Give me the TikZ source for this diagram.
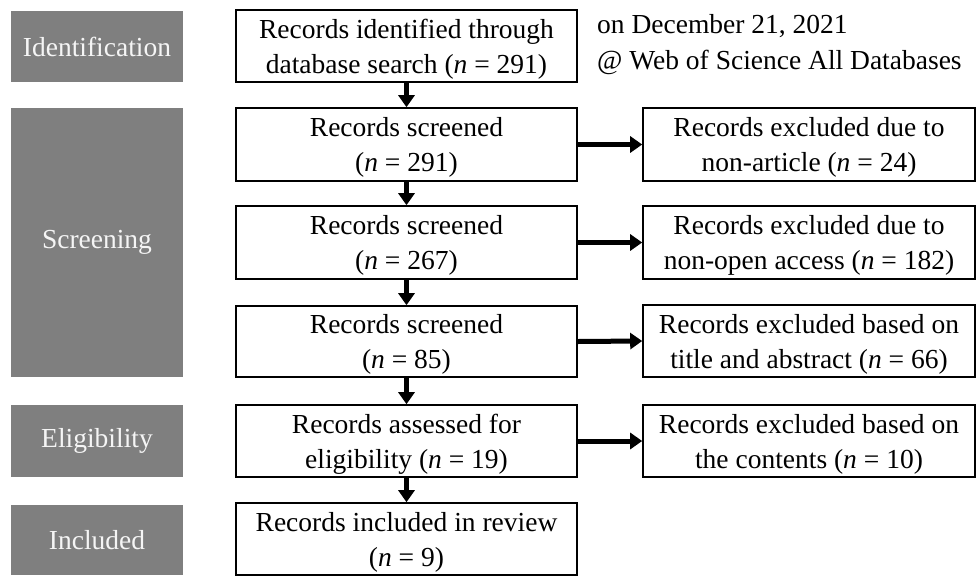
\documentclass[tikz,border=0pt]{standalone}
\usepackage{fontspec}
\setmainfont{Liberation Serif}
\usetikzlibrary{arrows.meta}
\newcommand{\topstrut}{\rule{0pt}{25.5pt}}
\begin{document}
\begin{tikzpicture}[x=1pt,y=-1pt,
  txt/.style={font=\fontsize{27.5}{35}\selectfont},
  phase/.style={txt, rectangle, fill={rgb,255:red,127;green,127;blue,127}, text={rgb,255:red,245;green,245;blue,245}, inner sep=0pt, minimum width=172pt},
  boxed/.style={txt, rectangle, draw=black, line width=1.6pt, inner sep=0pt, align=center},
  mainbox/.style={boxed, minimum width=341pt},
  sidebox/.style={boxed, minimum width=332pt},
  flow/.style={line width=5pt, -{Triangle[length=12pt,width=16pt]}}
]
\useasboundingbox (0,0) rectangle (977,576);
% phase labels
\node[phase, minimum height=71pt] (pid) at (97,46.5) {Identification};
\node[phase, minimum height=269pt] (pscr) at (97,242.5) {Screening};
\node[phase, minimum height=72pt] (pel) at (97,441) {Eligibility};
\node[phase, minimum height=70pt] (pinc) at (97,540) {Included};
% main boxes
\node[mainbox, minimum height=72pt] (b1) at (406.5,46) {\topstrut Records identified through\\database search (\textit{n} = 291)};
\node[mainbox, minimum height=73pt] (b2) at (406.5,144.5) {\topstrut Records screened\\(\textit{n} = 291)};
\node[mainbox, minimum height=73pt] (b3) at (406.5,242.5) {\topstrut Records screened\\(\textit{n} = 267)};
\node[mainbox, minimum height=71pt] (b4) at (406.5,341.5) {\topstrut Records screened\\(\textit{n} = 85)};
\node[mainbox, minimum height=72pt] (b5) at (406.5,441) {\topstrut Records assessed for\\eligibility (\textit{n} = 19)};
\node[mainbox, minimum height=72pt] (b6) at (406.5,539) {\topstrut Records included in review\\(\textit{n} = 9)};
% side boxes
\node[sidebox, minimum height=73pt] (r1) at (809,144.5) {\topstrut Records excluded due to\\non-article (\textit{n} = 24)};
\node[sidebox, minimum height=73pt] (r2) at (809,242.5) {\topstrut Records excluded due to\\non-open access (\textit{n} = 182)};
\node[sidebox, minimum height=72pt] (r3) at (809,341) {\topstrut Records excluded based on\\title and abstract (\textit{n} = 66)};
\node[sidebox, minimum height=72pt] (r4) at (809,441) {\topstrut Records excluded based on\\the contents (\textit{n} = 10)};
% annotation
\node[anchor=north west, inner sep=0pt, align=left, font=\fontsize{27.5}{36}\selectfont] (note) at (597,14) {on December 21, 2021\\@ Web of Science All Databases};
% arrows
\draw[flow] (b1.south) -- (b2.north);
\draw[flow] (b2.south) -- (b3.north);
\draw[flow] (b3.south) -- (b4.north);
\draw[flow] (b4.south) -- (b5.north);
\draw[flow] (b5.south) -- (b6.north);
\draw[flow] (b2.east) -- (r1.west);
\draw[flow] (b3.east) -- (r2.west);
\draw[flow] (b4.east) -- (r3.west);
\draw[flow] (b5.east) -- (r4.west);
\end{tikzpicture}
\end{document}
